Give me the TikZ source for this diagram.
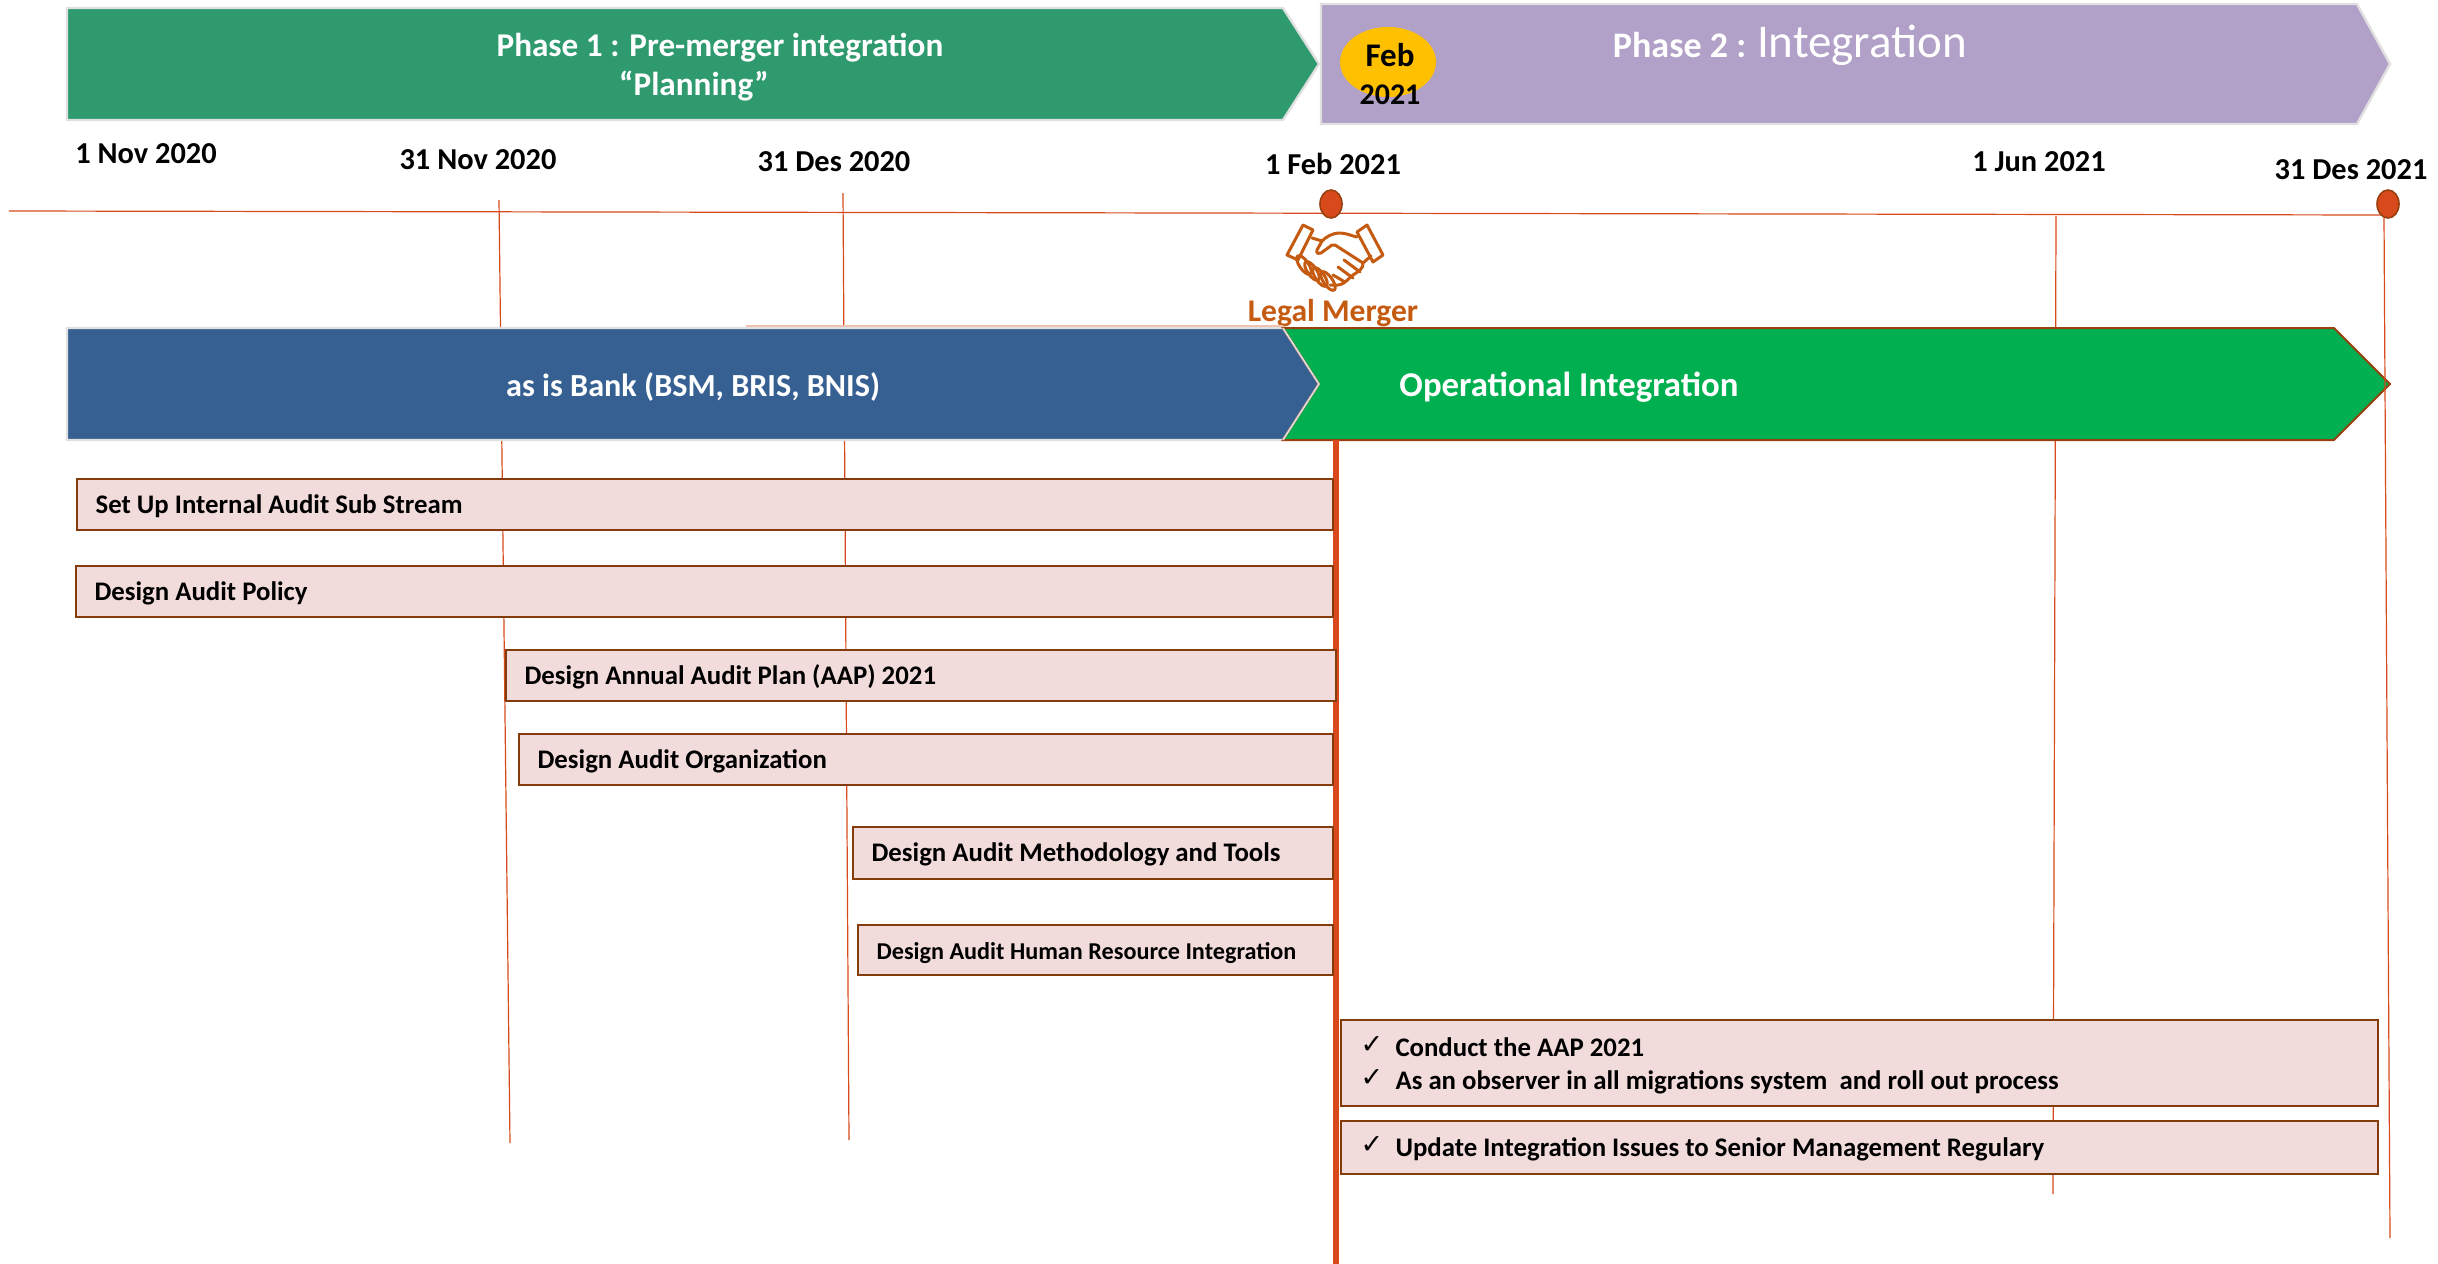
\documentclass[tikz,border=0pt]{standalone}
\usepackage{fontspec}
\setmainfont{Carlito}
\newfontfamily\checkfont{DejaVu Sans}
\usetikzlibrary{positioning}
\usetikzlibrary{shapes.geometric}
\definecolor{phaseOneColor}{HTML}{2E9A6E}
\definecolor{phaseTwoColor}{HTML}{B1A0C7}
\definecolor{bankColor}{HTML}{376092}
\definecolor{integrationColor}{HTML}{00B050}
\definecolor{barColor}{HTML}{F2DCDB}
\definecolor{lineColor}{HTML}{D84A1B}
\definecolor{edgeColor}{HTML}{984010}
\definecolor{barEdgeColor}{HTML}{843C0C}
\definecolor{mergerColor}{HTML}{C55A11}
\definecolor{feastColor}{HTML}{FFC000}
\tikzstyle{chevron} = [draw=black!12, line width=1.2pt]
\tikzstyle{workbar} = [rectangle, draw=barEdgeColor, line width=1pt, fill=barColor, anchor=north west, inner sep=0pt, font=\fontsize{13.4}{16}\selectfont\bfseries, align=flush left]
\tikzstyle{onebar} = [workbar, text height=11.8pt, text depth=2.4pt]
\tikzstyle{datelabel} = [font=\fontsize{15.2}{18}\selectfont\bfseries, inner sep=0pt]
\tikzstyle{bandlabel} = [text=white, inner sep=0pt, font=\fontsize{16.1}{19}\selectfont\bfseries]
\tikzstyle{gridline} = [draw=lineColor, line width=.6pt]
\tikzstyle{milestone} = [ellipse, draw=edgeColor, line width=.8pt, fill=lineColor, minimum width=11pt, minimum height=14pt, inner sep=0pt]
\tikzstyle{finger} = [x radius=11, y radius=4.5, rotate=-55]
\newcommand{\chk}{\makebox[17.5pt][l]{\checkfont\fontsize{13.5}{13.5}\selectfont\raisebox{1.5pt}{✓}}}
\begin{document}
\begin{tikzpicture}[x=.5pt, y=-.5pt]
\useasboundingbox (0,0) rectangle (2438,1264);

% grid lines
\coordinate (line one top) at (499,200);
\coordinate (line one end) at (510,1143);
\coordinate (line two top) at (843,193);
\coordinate (line two end) at (849,1140);
\coordinate (line three top) at (2056,216);
\coordinate (line three end) at (2053,1194);
\coordinate (line four top) at (2384,218);
\coordinate (line four end) at (2390,1238);
\coordinate (axis start) at (9,211);
\coordinate (axis end) at (2384,215);
\draw [gridline] (axis start) -- (axis end);
\draw [gridline] (line one top) -- (line one end);
\draw [gridline] (line two top) -- (line two end);
\draw [gridline] (line three top) -- (line three end);

% phases
\draw [chevron, fill=phaseOneColor] (67,8) -- (1283,8) -- (1319,64) -- (1283,120) -- (67,120) -- cycle;
\draw [chevron, fill=phaseTwoColor] (1321,4) -- (2357,4) -- (2390,64) -- (2357,124) -- (1321,124) -- cycle;
\node (phase one) [bandlabel, align=center, font=\fontsize{16.6}{19.5}\selectfont\bfseries] at (694,67) {\hspace*{26pt}Phase 1 : Pre-merger integration\\``Planning''};
\node (phase two) [bandlabel, font=\fontsize{18}{20}\selectfont\bfseries] at (1790,45) {Phase 2 : {\fontsize{23.5}{24}\selectfont\mdseries Integration}};
\node (feb) [ellipse, fill=feastColor, minimum width=48pt, minimum height=35pt, inner sep=0pt] at (1388,62) {};
\node (feb text) [inner sep=0pt, font=\fontsize{16.5}{19}\selectfont\bfseries] at (1390,55) {Feb};
\node (feb year) [inner sep=0pt, font=\fontsize{15}{17}\selectfont\bfseries] at (1390,95) {2021};

% dates
\node (nov start) [datelabel] at (146,154) {1 Nov 2020};
\node (nov end) [datelabel] at (478,160) {31 Nov 2020};
\node (des start) [datelabel] at (834,162) {31 Des 2020};
\node (feb start) [datelabel] at (1333,164) {1 Feb 2021};
\node (jun start) [datelabel] at (2039,162) {1 Jun 2021};
\node (des end) [datelabel] at (2351,170) {31 Des 2021};
\node (feb dot) [milestone] at (1331,204) {};
\node (des dot) [milestone] at (2388,204) {};

% handshake
\begin{scope}[shift={(1334,254)}, draw=mergerColor, line width=1.5pt, line join=round, line cap=round]
\draw (-47,1) -- (-31,-29) -- (-21,-24) -- (-36,6) -- cycle;
\draw (23,-22) -- (33,-29) -- (49,1) -- (39,8) -- cycle;
\draw (-22,-16) -- (-12,-13) .. controls (-8,-17) and (-2,-21) .. (6,-21) .. controls (12,-21) and (18,-18) .. (23,-17);
\draw (-12,-13) -- (-17,-4) .. controls (-18,0) and (-15,0) .. (-13,-1) -- (-2,-9) -- (1,-9) -- (29,9);
\draw (37,2) -- (29,9) .. controls (30,14) and (24,18) .. (19,21) .. controls (14,24) and (12,30) .. (4,31) -- (-4,31);
\draw (-30,11) ellipse [finger];
\draw (-22,17) ellipse [finger];
\draw (-14,23) ellipse [finger];
\draw (-6,27) ellipse [finger];
\draw (10,6) -- (26,18);
\draw (4,13) -- (19,24);
\draw (-1,21) -- (11,28);
\end{scope}
\node (legal merger) [text=mergerColor, inner sep=0pt, font=\fontsize{15.8}{18}\selectfont\bfseries] at (1333,313.5) {Legal Merger};

% streams
\coordinate (pink start) at (746,326);
\coordinate (pink end) at (1283,326);
\draw [draw=lineColor!35, line width=.6pt] (pink start) -- (pink end);
\draw [chevron, fill=bankColor] (67,328) -- (1283,328) -- (1319,384) -- (1283,440) -- (67,440) -- cycle;
\draw [draw=edgeColor, line width=1pt, fill=integrationColor] (1283,328) -- (2334,328) -- (2390,384) -- (2334,440) -- (1283,440) -- (1319,384) -- cycle;
\draw [gridline] (line four top) -- (line four end);
\draw [draw=black!12, line width=.8pt] (1283,328) -- (1319,384) -- (1283,440);
\node (as is) [bandlabel] at (693,386.5) {as is Bank (BSM, BRIS, BNIS)};
\node (operational) [bandlabel, font=\fontsize{17.4}{20}\selectfont\bfseries] at (1569,387.5) {Operational Integration};

% merger line
\coordinate (merger top) at (1336,440);
\coordinate (merger end) at (1336,1264);
\draw [draw=lineColor, line width=3.2pt] (merger top) -- (merger end);

% work bars
\node (sub stream) [onebar, minimum width=628pt, minimum height=25.5pt, text width=609.4pt] at (76,477.5) {Set Up Internal Audit Sub Stream};
\node (policy) [onebar, minimum width=628.5pt, minimum height=25.5pt, text width=610pt] at (75,564.5) {Design Audit Policy};
\node (annual plan) [onebar, minimum width=415pt, minimum height=25.5pt, text width=396.4pt] at (505,648.5) {Design Annual Audit Plan (AAP) 2021};
\node (organization) [onebar, minimum width=407pt, minimum height=25.5pt, text width=388.4pt] at (518,732.5) {Design Audit Organization};
\node (methodology) [onebar, minimum width=240pt, minimum height=26pt, text width=221.4pt] at (852,825.5) {Design Audit Methodology and Tools};
\node (human resource) [onebar, minimum width=237.5pt, minimum height=25pt, text width=218.9pt, font=\fontsize{12.1}{14}\selectfont\bfseries] at (857,924) {Design Audit Human Resource Integration};
\node (conduct) [workbar, minimum width=518.5pt, minimum height=43pt, text width=499pt, font=\fontsize{13.4}{16.4}\selectfont\bfseries] at (1340,1018.5) {\rule{0pt}{12.4pt}\chk Conduct the AAP 2021\\\chk As an observer in all migrations system\ \ and roll out process};
\node (update) [onebar, minimum width=518.5pt, minimum height=26.5pt, text width=499pt] at (1340,1120) {\chk Update Integration Issues to Senior Management Regulary};
\end{tikzpicture}
\end{document}
